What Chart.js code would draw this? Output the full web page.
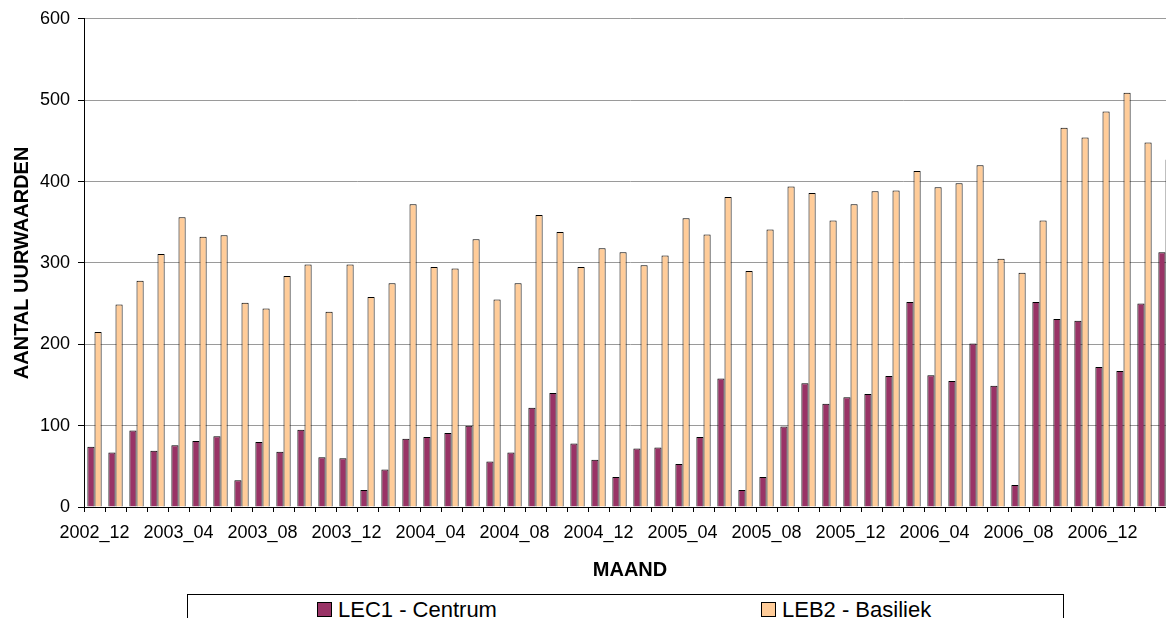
<!DOCTYPE html>
<html>
<head>
<meta charset="utf-8">
<script src="https://cdn.jsdelivr.net/npm/chart.js@4/dist/chart.umd.min.js"></script>
<style>
  html, body { margin: 0; padding: 0; overflow: hidden; background: #fff; }
  #wrap { position: relative; width: 1166px; height: 618px; overflow: hidden; }
  canvas { position: absolute; left: 0; top: 0; }
  #legend { position: absolute; left: 187px; top: 594px; width: 877px; height: 40px;
            border: 1px solid #000; box-sizing: border-box; background: #fff;
            font-family: 'Liberation Sans', Arial, sans-serif; font-size: 22px; color: #000; }
  .item { position: absolute; top: 3px; white-space: nowrap; line-height: 24px; }
  .sw { display: inline-block; width: 13px; height: 13px; border: 1px solid #000; margin-right: 6px; vertical-align: 0px; }
</style>
</head>
<body>
<div id="wrap">
  <canvas id="c" width="1190" height="618"></canvas>
  <div id="legend"></div>
</div>
<script>
const categories = ['2002_12','2003_01','2003_02','2003_03','2003_04','2003_05','2003_06','2003_07','2003_08','2003_09','2003_10','2003_11','2003_12',
  '2004_01','2004_02','2004_03','2004_04','2004_05','2004_06','2004_07','2004_08','2004_09','2004_10','2004_11','2004_12',
  '2005_01','2005_02','2005_03','2005_04','2005_05','2005_06','2005_07','2005_08','2005_09','2005_10','2005_11','2005_12',
  '2006_01','2006_02','2006_03','2006_04','2006_05','2006_06','2006_07','2006_08','2006_09','2006_10','2006_11','2006_12',
  '2007_01','2007_02','2007_03'];
const lec1Values = [74,67,94,69,76,81,87,33,80,68,95,61,60,
  21,46,84,86,91,100,56,67,122,140,78,58,37,
  72,73,53,86,158,21,37,99,152,127,135,139,161,
  252,162,155,201,149,27,252,231,229,172,167,250,313];
const leb2Values = [215,249,278,311,356,332,334,251,244,284,298,240,298,
  258,275,372,295,293,329,255,275,359,338,295,318,313,
  297,309,355,335,381,290,341,394,386,352,372,388,389,
  413,393,398,420,305,288,352,466,454,486,509,448,427];
const seriesNames = ['LEC1 - Centrum', 'LEB2 - Basiliek'];
const seriesColors = ['#993366', '#FFCC99'];
const yTicks = [0, 100, 200, 300, 400, 500, 600];
const labelEvery = 4;

Chart.defaults.font.family = "'Liberation Sans', Arial, sans-serif";
Chart.defaults.color = '#000';

new Chart(document.getElementById('c'), {
  type: 'bar',
  data: {
    labels: categories,
    datasets: [
      { label: seriesNames[0], data: lec1Values, backgroundColor: seriesColors[0], borderColor: '#000', borderWidth: 1,
        categoryPercentage: 0.68, barPercentage: 1.0 },
      { label: seriesNames[1], data: leb2Values, backgroundColor: seriesColors[1], borderColor: '#000', borderWidth: 1,
        categoryPercentage: 0.68, barPercentage: 1.0 }
    ]
  },
  options: {
    responsive: false,
    animation: false,
    layout: { padding: { top: 18, right: 14, bottom: 0, left: 0 } },
    plugins: { legend: { display: false }, tooltip: { enabled: false } },
    scales: {
      x: {
        grid: { display: true, drawOnChartArea: false, drawTicks: true, tickLength: 5, tickColor: '#000', offset: true },
        border: { color: '#000' },
        ticks: { autoSkip: false, maxRotation: 0, minRotation: 0, padding: 10, font: { size: 18 }, color: '#000',
          callback: (v, i) => (i % labelEvery === 0 ? categories[i] : '') },
        title: { display: true, text: 'MAAND', font: { size: 20, weight: 'bold' }, color: '#000', padding: { top: 0, bottom: 36 } },
        afterFit: s => { s.height = 111; }
      },
      y: {
        min: yTicks[0], max: yTicks[yTicks.length - 1],
        afterBuildTicks: s => { s.ticks = yTicks.map(v => ({ value: v })); },
        ticks: { font: { size: 18 }, color: '#000', padding: 8 },
        grid: { color: '#9a9a9a', tickColor: '#000', tickLength: 6 },
        border: { color: '#000' },
        title: { display: true, text: 'AANTAL UURWAARDEN', font: { size: 20, weight: 'bold' }, color: '#000', padding: { top: 10, bottom: 0 } },
        afterFit: s => { s.width = 84; }
      }
    }
  }
});

const legend = document.getElementById('legend');
const itemLeft = [129, 573];
seriesNames.forEach((name, i) => {
  const d = document.createElement('div');
  d.className = 'item';
  d.style.left = itemLeft[i] + 'px';
  const sw = document.createElement('span');
  sw.className = 'sw';
  sw.style.background = seriesColors[i];
  d.appendChild(sw);
  d.appendChild(document.createTextNode(name));
  legend.appendChild(d);
});
</script>
</body>
</html>
